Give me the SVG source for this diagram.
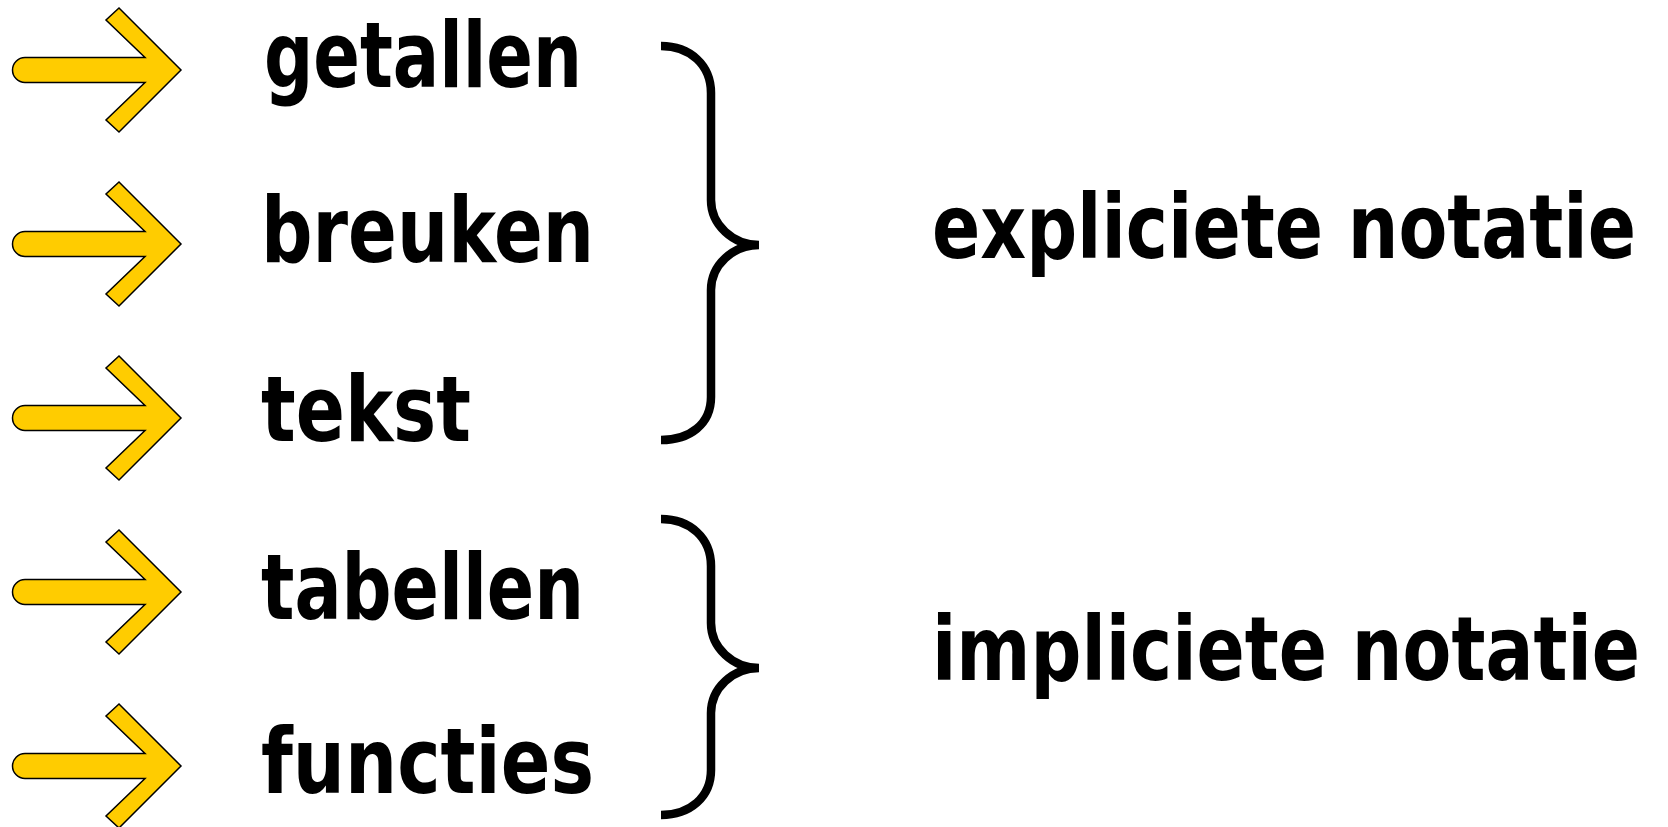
<svg xmlns="http://www.w3.org/2000/svg" xmlns:xlink="http://www.w3.org/1999/xlink" width="1668" height="827" viewBox="0 0 1668 827">
  <defs>
    <style>
      .arrow { fill: #FFCC00; stroke: #000; stroke-width: 1.5; stroke-linejoin: miter; }
      .brace { fill: none; stroke: #000; stroke-width: 8.5; stroke-linecap: butt; }
      .lbl { font-family: "DejaVu Sans", "Liberation Sans", sans-serif; font-weight: bold; font-stretch: condensed; font-size: 90px; fill: #000; }
      .lbl-wide { font-family: "DejaVu Sans", "Liberation Sans", sans-serif; font-weight: bold; font-stretch: condensed; font-size: 80px; fill: #000; }
    </style>
    <!-- block arrow pointing right, centred vertically on y=0 -->
    <path id="blockArrow" class="arrow" d="M25,-12.5 H145 L106,-50 L119,-62 L181,0 L119,62 L106,50 L145,12.5 H25 A12.5,12.5 0 0 1 25,-12.5 Z"/>
  </defs>
  <rect width="1668" height="827" fill="#fff"/>

  <g id="item-getallen">
    <use xlink:href="#blockArrow" transform="translate(0,70)"/>
    <text class="lbl" x="264" y="87" textLength="318" lengthAdjust="spacingAndGlyphs">getallen</text>
  </g>
  <g id="item-breuken">
    <use xlink:href="#blockArrow" transform="translate(0,244)"/>
    <text class="lbl" x="261" y="262" textLength="333" lengthAdjust="spacingAndGlyphs">breuken</text>
  </g>
  <g id="item-tekst">
    <use xlink:href="#blockArrow" transform="translate(0,418)"/>
    <text class="lbl" x="261" y="441" textLength="210" lengthAdjust="spacingAndGlyphs">tekst</text>
  </g>
  <g id="item-tabellen">
    <use xlink:href="#blockArrow" transform="translate(0,592)"/>
    <text class="lbl" x="261" y="619" textLength="323" lengthAdjust="spacingAndGlyphs">tabellen</text>
  </g>
  <g id="item-functies">
    <use xlink:href="#blockArrow" transform="translate(0,766)"/>
    <text class="lbl" x="261" y="793" textLength="333" lengthAdjust="spacingAndGlyphs">functies</text>
  </g>

  <g id="connectors">
    <path class="brace" d="M661,46 C690,46 711,65 711,93 L711,200 C711,225 733,245 759,245 C733,245 711,265 711,290 L711,397 C711,424 690,440 661,440"/>
    <path class="brace" d="M661,519 C690,519 711,538 711,566 L711,623 C711,648 733,668 759,668 C733,668 711,688 711,713 L711,770 C711,797 690,815 661,815"/>
  </g>

  <!-- group labels: slightly smaller font stretched vertically to keep glyph height -->
  <g id="group-expliciet" transform="translate(932,258) scale(1,1.12)">
    <text class="lbl-wide" x="0" y="0" textLength="704" lengthAdjust="spacingAndGlyphs">expliciete notatie</text>
  </g>
  <g id="group-impliciet" transform="translate(932,680) scale(1,1.12)">
    <text class="lbl-wide" x="0" y="0" textLength="708" lengthAdjust="spacingAndGlyphs">impliciete notatie</text>
  </g>
</svg>
